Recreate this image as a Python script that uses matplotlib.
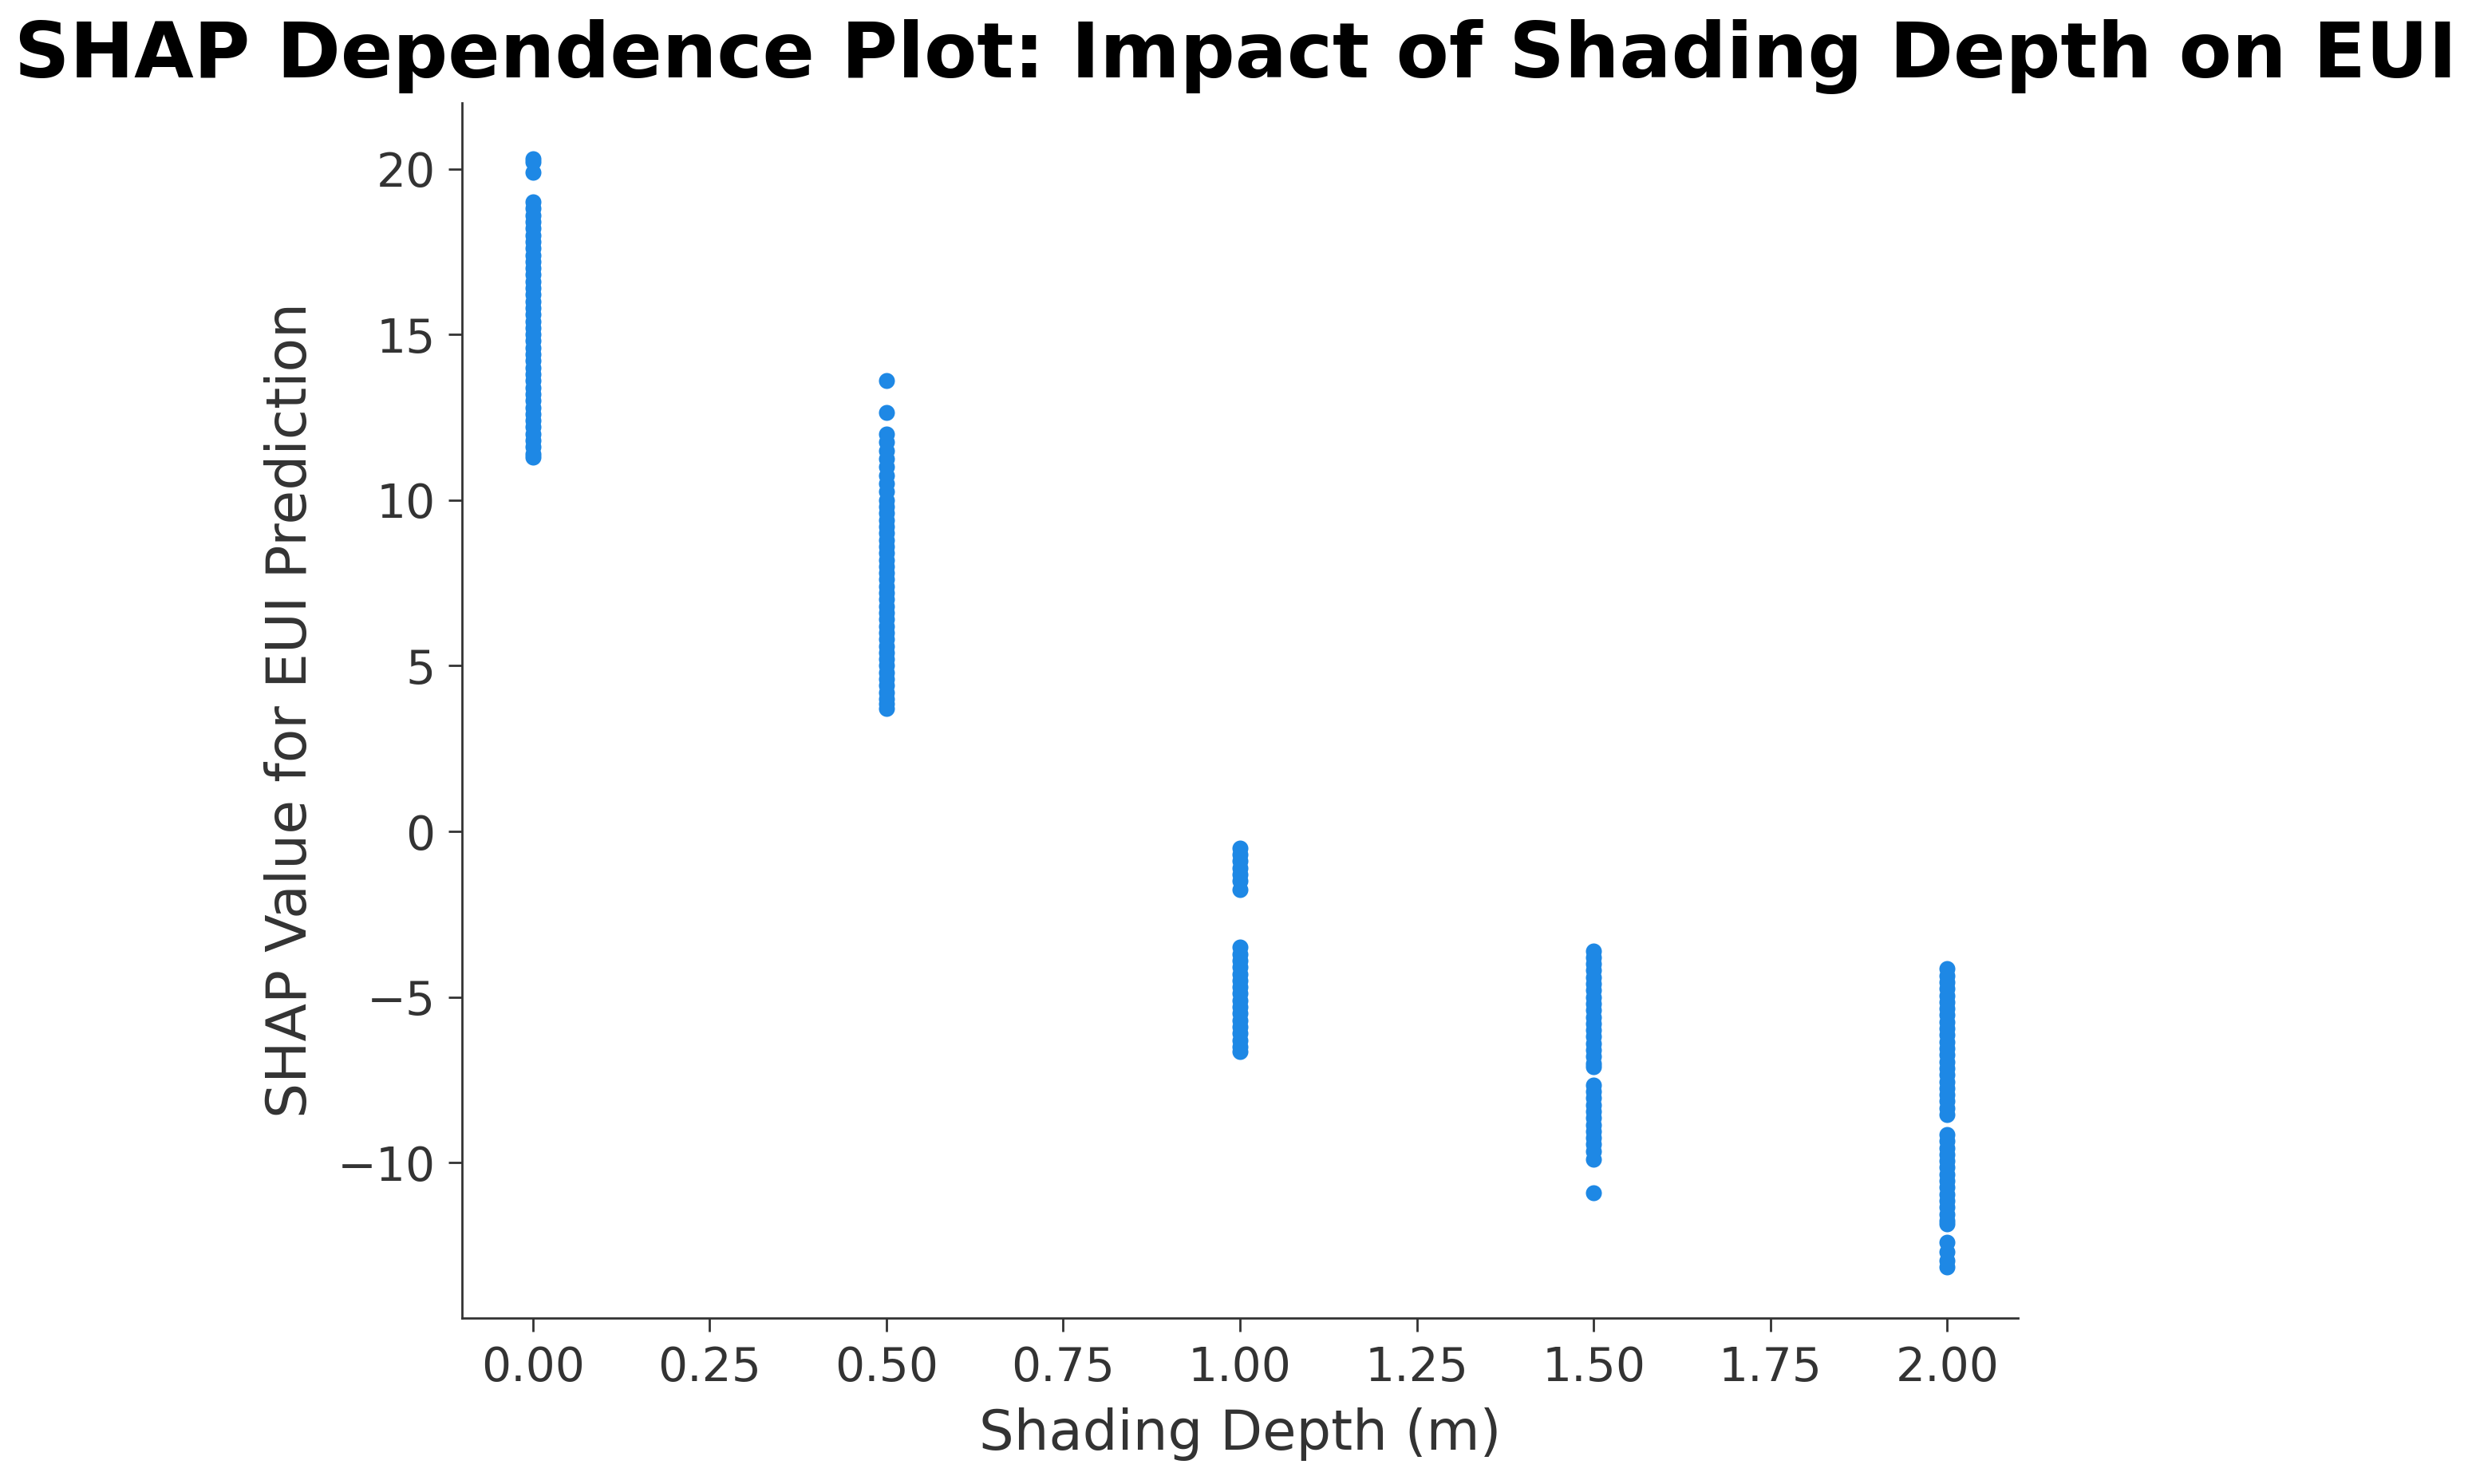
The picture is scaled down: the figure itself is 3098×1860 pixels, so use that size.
import matplotlib
matplotlib.use("Agg")
import matplotlib.pyplot as plt

# ========== Data ==========
depth_levels = [0.0, 0.5, 1.0, 1.5, 2.0]

shap_d000 = [20.3, 20.2, 19.9, 19.0, 18.8, 18.6, 18.4, 18.2, 18.0, 17.8, 17.6,
             17.4, 17.2, 17.0, 16.8, 16.6, 16.4, 16.2, 16.0, 15.8, 15.6, 15.4,
             15.2, 15.0, 14.8, 14.6, 14.4, 14.2, 14.0, 13.8, 13.6, 13.4, 13.2,
             13.0, 12.8, 12.6, 12.4, 12.2, 12.0, 11.8, 11.6, 11.4, 11.3]
shap_d050 = [13.6, 12.65, 12.0, 11.75, 11.5, 11.25, 11.0, 10.75, 10.5, 10.25,
             10.0, 9.8, 9.6, 9.4, 9.2, 9.0, 8.8, 8.6, 8.4, 8.2, 8.0, 7.8, 7.6,
             7.4, 7.2, 7.0, 6.8, 6.6, 6.4, 6.2, 6.0, 5.8, 5.6, 5.4, 5.2, 5.0,
             4.8, 4.6, 4.4, 4.2, 4.0, 3.85, 3.7]
shap_d100 = [-0.5, -0.7, -0.9, -1.1, -1.3, -1.5, -1.75,
             -3.5, -3.7, -3.9, -4.1, -4.3, -4.5, -4.7, -4.9, -5.1, -5.3, -5.5,
             -5.7, -5.9, -6.1, -6.3, -6.5, -6.65]
shap_d150 = [-3.6, -3.8, -4.0, -4.2, -4.4, -4.6, -4.8, -5.0, -5.2, -5.4, -5.6,
             -5.8, -6.0, -6.2, -6.4, -6.6, -6.8, -7.0, -7.1,
             -7.65, -7.85, -8.05, -8.25, -8.45, -8.65, -8.85, -9.05, -9.25,
             -9.45, -9.65, -9.9, -10.9]
shap_d200 = [-4.15, -4.35, -4.55, -4.75, -4.95, -5.15, -5.35, -5.55, -5.75,
             -5.95, -6.15, -6.35, -6.55, -6.75, -6.95, -7.15, -7.35, -7.55,
             -7.75, -7.95, -8.15, -8.35, -8.55,
             -9.15, -9.35, -9.55, -9.75, -9.95, -10.15, -10.35, -10.55, -10.75,
             -10.95, -11.15, -11.35, -11.55, -11.75, -11.85,
             -12.4, -12.7, -12.95, -13.15]
shap_cols = [shap_d000, shap_d050, shap_d100, shap_d150, shap_d200]

x_ticks = [0.0, 0.25, 0.5, 0.75, 1.0, 1.25, 1.5, 1.75, 2.0]
y_ticks = [-10, -5, 0, 5, 10, 15, 20]

# ========== Plot ==========
text_c = "#333333"
fig = plt.figure(figsize=(15.49, 9.3), dpi=200)
ax = fig.add_axes([0.1869, 0.1116, 0.6294, 0.8193])

for d, vals in zip(depth_levels, shap_cols):
    ax.scatter([d] * len(vals), vals, s=52, color="#1E88E5", linewidths=0)

ax.set_xlim(-0.1, 2.1)
ax.set_ylim(-14.7, 22.0)
ax.set_xticks(x_ticks)
ax.set_yticks(y_ticks)
ax.set_xticklabels([f"{t:.2f}" for t in x_ticks])

ax.spines["top"].set_visible(False)
ax.spines["right"].set_visible(False)
for sp in ("left", "bottom"):
    ax.spines[sp].set_color(text_c)
    ax.spines[sp].set_linewidth(1.0)
ax.tick_params(colors=text_c, labelsize=21, length=6, width=1.0, pad=6)

ax.set_xlabel("Shading Depth (m)", fontsize=24.8, color=text_c, labelpad=7.5)
ax.set_ylabel("SHAP Value for EUI Prediction", fontsize=25, color=text_c, labelpad=9)

fig.text(0.5, 1 - 97 / 1860, "SHAP Dependence Plot: Impact of Shading Depth on EUI",
         fontsize=34.7, fontweight="bold", ha="center", va="baseline")

fig.savefig("out.png", dpi=200)
